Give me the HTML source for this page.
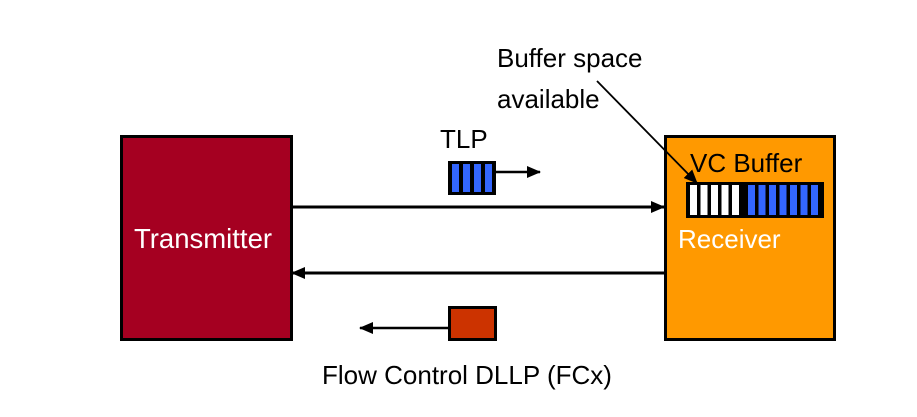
<!DOCTYPE html>
<html><head><style>
body{margin:0;background:#fff;}
</style></head><body>
<svg width="917" height="412" viewBox="0 0 917 412" xmlns="http://www.w3.org/2000/svg" font-family="Liberation Sans, Arial, sans-serif">
<defs>
<marker id="a" markerWidth="14" markerHeight="12" refX="13" refY="6" orient="auto" markerUnits="userSpaceOnUse">
<path d="M0,0 L14,6 L0,12 Z" fill="#000"/></marker>
</defs>
<rect x="121.5" y="136.5" width="170" height="203" fill="#a50021" stroke="#000" stroke-width="3"/>
<text x="134" y="248" font-size="27.5" fill="#fff">Transmitter</text>
<rect x="665.5" y="136.5" width="169" height="203" fill="#ff9900" stroke="#000" stroke-width="3"/>
<text x="690" y="172" font-size="26" fill="#000">VC Buffer</text>
<text x="678" y="248" font-size="26" fill="#fff">Receiver</text>
<rect x="686" y="182" width="138" height="36" fill="#000"/>
<g fill="#fff">
<rect x="690" y="185" width="7" height="30"/><rect x="700.5" y="185" width="7" height="30"/><rect x="711" y="185" width="7" height="30"/><rect x="721.5" y="185" width="7" height="30"/><rect x="732" y="185" width="7" height="30"/>
</g>
<g fill="#3366ff">
<rect x="748" y="185" width="7" height="30"/><rect x="758.5" y="185" width="7" height="30"/><rect x="769" y="185" width="7" height="30"/><rect x="779.5" y="185" width="7" height="30"/><rect x="790" y="185" width="7" height="30"/><rect x="800.5" y="185" width="7" height="30"/><rect x="811" y="185" width="7" height="30"/>
</g>
<line x1="292" y1="207" x2="664" y2="207" stroke="#000" stroke-width="3" marker-end="url(#a)"/>
<line x1="664" y1="273" x2="292" y2="273" stroke="#000" stroke-width="3" marker-end="url(#a)"/>
<text x="440" y="148" font-size="26">TLP</text>
<rect x="448" y="161" width="48" height="34" fill="#000"/>
<g fill="#3366ff">
<rect x="452" y="164" width="7" height="28"/><rect x="463" y="164" width="7" height="28"/><rect x="474" y="164" width="7" height="28"/><rect x="485" y="164" width="7" height="28"/>
</g>
<line x1="496" y1="172" x2="540" y2="172" stroke="#000" stroke-width="2.5" marker-end="url(#a)"/>
<rect x="449.5" y="307.5" width="46" height="32" fill="#cc3300" stroke="#000" stroke-width="3"/>
<line x1="448" y1="328" x2="360" y2="328" stroke="#000" stroke-width="2.5" marker-end="url(#a)"/>
<text x="322" y="384" font-size="26">Flow Control DLLP (FCx)</text>
<text x="497" y="67" font-size="26">Buffer space</text>
<text x="497" y="108" font-size="26">available</text>
<line x1="597" y1="81" x2="697" y2="183" stroke="#000" stroke-width="1.8" marker-end="url(#a)"/>
</svg>
</body></html>
